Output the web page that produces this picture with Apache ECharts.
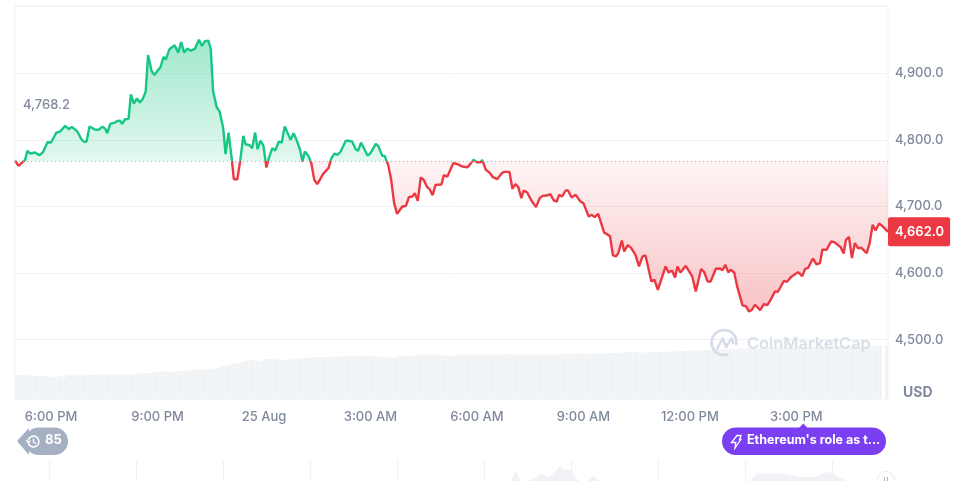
<!DOCTYPE html>
<html>
<head>
<meta charset="utf-8">
<title>ETH price chart</title>
<script src="https://cdn.jsdelivr.net/npm/echarts@6/dist/echarts.min.js"></script>
<style>
html,body{margin:0;padding:0;background:#fff;}
#chart{width:974px;height:481px;}
</style>
</head>
<body>
<div id="chart"></div>
<script>

/* minutes counted from midnight 24 Aug */
const minutes=[
1019,1025,1030,1036,1040,1045,1053,1060,1066,1074,1080,1089,1095,1104,1110,1115,1124,1132,1136,1140,
1145,1154,1160,1167,1172,1175,1180,1188,1192,1196,1200,1205,1211,1215,1220,1225,1230,1235,1240,1244,
1250,1255,1260,1265,1270,1274,1280,1289,1295,1300,1305,1310,1316,1323,1330,1335,1340,1346,1350,1354,
1360,1365,1371,1375,1380,1385,1389,1395,1400,1405,1409,1415,1420,1425,1429,1434,1439,1444,1449,1454,
1459,1465,1470,1475,1485,1490,1495,1501,1505,1509,1515,1520,1525,1530,1535,1540,1549,1554,1559,1564,
1569,1578,1582,1589,1595,1599,1604,1615,1620,1629,1633,1640,1644,1650,1655,1660,1665,1674,1680,1685,
1691,1695,1700,1705,1710,1716,1720,1725,1730,1740,1744,1750,1760,1766,1769,1775,1784,1789,1794,1800,
1806,1809,1815,1821,1827,1834,1842,1846,1855,1860,1865,1870,1875,1879,1885,1892,1900,1906,1911,1918,
1924,1930,1935,1939,1944,1950,1954,1960,1967,1975,1980,1989,1994,1999,2005,2015,2025,2030,2035,2039,
2045,2049,2055,2061,2068,2074,2080,2085,2095,2100,2106,2109,2119,2124,2130,2135,2139,2144,2153,2156,
2164,2170,2179,2184,2190,2195,2204,2211,2215,2220,2225,2229,2235,2240,2249,2255,2260,2265,2270,2279,
2285,2291,2296,2304,2309,2319,2324,2331,2343,2350,2355,2360,2368,2374,2380,2384,2391,2399,2405,2415,
2420,2424,2429,2434,2439,2444,2450,2459,2464,2469,2474,2480,2487,2495
];

const prices=[
4769,4761,4765,4770,4783.5,4779.5,4781,4777,4781,4796.5,4796,4811,4812.5,4821,4816,4819.5,4813,4800,4797,4797.5,
4820,4815.5,4815,4820,4816,4810,4824,4826,4828.5,4829,4824,4831,4831.5,4868.5,4854.5,4862,4856,4861.5,4872.5,4927.5,
4903.5,4897.5,4904,4909,4924.5,4921,4936,4942,4931,4947,4931,4937,4934,4936.5,4950.5,4941,4948,4949,4936,4872.5,
4849,4842.5,4817.5,4778.5,4811,4775,4741,4741,4770,4806,4793,4792.5,4787.5,4811,4786,4799,4791.5,4758.5,4775,4787.5,
4784,4797.5,4796,4820,4800,4810,4800,4785,4767.5,4782.5,4776,4765,4740,4733.5,4741,4749,4757.5,4772.5,4779.5,4777.5,
4781.5,4798.5,4799,4797.5,4786,4783.5,4796,4776.5,4780,4794,4791,4776,4776,4762.5,4740,4705,4689,4700,4701,4714,
4715,4720,4708.5,4743.5,4740,4729,4726,4717,4732.5,4733,4747,4745,4765,4764,4765,4760,4759,4764,4770,4766.5,
4766.5,4770,4755,4751,4744,4741,4750,4752,4752,4726.5,4733.5,4729,4712.5,4724,4721,4709,4699,4712.5,4716,4716.5,
4718.5,4709,4707.5,4717.5,4715,4724,4724,4713.5,4717.5,4707.5,4705,4685,4687.5,4684,4689,4661,4655.5,4626.5,4625,4630,
4649,4632.5,4642,4637.5,4627.5,4610,4625,4626.5,4587.5,4590,4575,4572.5,4610,4601,4604,4593.5,4610,4601,4611,4610,
4595,4572.5,4606,4602,4587.5,4587.5,4606.5,4607,4604,4612.5,4601,4605,4601,4580,4551.5,4550,4542.5,4545,4552.5,4544.5,
4553.5,4552,4559,4572.5,4572,4588.5,4587,4594,4601.5,4595.5,4606.5,4608,4622,4613,4615,4635,4635,4647.5,4646,4639,
4629.5,4650,4654.5,4622.5,4645,4637.5,4638,4630,4645,4672.5,4664,4674.5,4669.5,4662
];

const basePrice=4768.2;

/* volume strip, one bar every 5 minutes */
const volumes=[
24,24.2,24,24.3,24,23.6,23.4,23,23.2,22.8,
22.6,22.4,22.6,22,23,22.4,21.8,23.6,24,23.6,
24.2,24,24.3,24.1,24.2,24.3,24,24.4,24.6,24.2,
24.4,24.3,24.5,24.4,24.6,24.4,24.5,24.7,24.6,25,
25.2,25.6,25.8,26,26.2,26.4,26.2,26.8,27.4,28,
27.6,26.8,27.2,27.6,27.8,28,28.2,28.4,28.8,29,
29.2,29.4,29.6,29.8,30,30.2,30.4,30.8,31.6,33,
33.6,34.2,35,35.6,35.8,36.4,37.4,38.2,38.6,39.4,
38.6,38,38.8,39.6,40,40.2,40,39.8,39.4,39,
39.4,39.8,40.2,40.4,40.6,40.8,41,40.8,41.4,41.8,
42,42.2,42,41.8,42,42.2,42.4,42.6,42.4,42.6,
42.8,43,42.6,42.4,42.8,43,42.8,42.6,42.8,42.4,
42.6,42.2,42,41.6,41.2,41,41.6,43,43.4,43.2,
43,43.2,43.6,43.4,43.8,44.2,44.4,44.6,44.8,44.4,
44.6,44.2,43.8,43.4,43,43.2,43.6,43.8,44.2,44.6,
44.8,44.6,44.8,44.6,44.8,44.4,44.6,44.8,44.6,44.4,
44.2,44.6,44.8,45,44.8,44.6,44.8,44.6,44.4,44.6,
44.8,45,44.6,44.4,44.6,44.8,44.6,44.4,44.6,44.8,
44.6,44.8,45,45.2,45,44.8,45.4,45.2,45,45.2,
45.4,45.2,45,45.4,45.6,45.4,45.2,45.6,45.8,46,
46.2,46.4,46.6,46.8,46.6,46.8,47,46.8,46.6,46.4,
46.6,46.4,46.8,47,47.2,47,47.4,47.2,47.6,47.4,
47.6,47.8,48,48.2,48,48.4,48.2,48.6,48.8,49,
49.2,49,49.4,49.2,49.6,49.4,49.8,49.6,50,49.8,
50,50.2,50.4,50.2,50.6,50.4,50.8,50.6,51,50.8,
51,51.2,51,51.4,51.2,51.6,51.4,51.8,51.6,52,
51.8,52,52.2,52,52.4,52.2,52.6,52.4,52.8,52.6,
52.8,53,52.8,53.2,53,53.4,53.2,53.6,53.4,53.2,
53.4,53.2,53.6,53.4,53.2,53.4,53,53.2,53.2,null,54
];

const timeTicks=[1080,1260,1440,1620,1800,1980,2160,2340];
const timeLabels=["6:00 PM","9:00 PM","25 Aug","3:00 AM","6:00 AM","9:00 AM","12:00 PM","3:00 PM"];
const priceLabels=[4500,4600,4700,4800,4900];
const priceLines=[4500,4600,4700,4800,4900,5000];

/* navigator strip under the chart, position in tick units */
const navTicks=[0,1,2,3,4,5,6,7,8,9];
const navPos=[5.30,5.36,5.42,5.5,5.59,5.66,5.71,5.75,5.82,5.87,5.92,5.96,6.01,6.05,6.10,6.19,6.25,6.32,8.05,8.14,8.24,8.34,8.46,8.63,8.80,8.93,9.00,9.09,9.16];
const navHeights=[0,10,0,0,3,8,4,4,10,15,11,12,9,3,0,0,5,0,0,8,7,8,7,4,4,9,8,3,0];


const FONT="Inter";
const GREEN="#16c784";
const RED="#ea3943";
const LABEL="#808a9d";
const LINE="#eff2f5";


function money(v){
return v.toLocaleString("en-US",{minimumFractionDigits:1,maximumFractionDigits:1});
}

let hi=Math.max(...prices);
let lo=Math.min(...prices);
let split=(hi-basePrice)/(hi-lo);

const priceData=minutes.map((m,i)=>[m,prices[i]]);
const navData=navPos.map((p,i)=>[p,navHeights[i]]);


let chart=echarts.init(document.getElementById("chart"),null,{renderer:"canvas"});

chart.setOption({

animation:false,
backgroundColor:"#fff",
textStyle:{fontFamily:FONT},

grid:[
{left:15,right:86,top:6,bottom:82,show:true,borderColor:LINE,borderWidth:1,backgroundColor:"transparent"},
{left:15,right:86,top:460,bottom:-2,show:false}
],

xAxis:[
{
type:"value",gridIndex:0,min:1019,max:2495,
axisLine:{show:false},
splitLine:{show:false},
axisTick:{show:false},
axisLabel:{
customValues:timeTicks,
color:LABEL,fontSize:13,fontWeight:500,fontFamily:FONT,margin:12,
formatter:v=>timeLabels[timeTicks.indexOf(v)]
}
},
{
type:"category",gridIndex:0,show:false,
data:volumes.map((v,i)=>i)
},
{
type:"value",gridIndex:1,min:-0.394,max:9.64,
axisLine:{show:true,lineStyle:{color:LINE}},
axisLabel:{show:false},
axisTick:{show:false,customValues:navTicks},
splitLine:{show:true,lineStyle:{color:LINE}}
}
],

yAxis:[
{
type:"value",gridIndex:0,position:"right",min:4411,max:5001,
axisLine:{show:false},
axisTick:{show:false,customValues:priceLines},
splitLine:{show:true,lineStyle:{color:LINE}},
axisLabel:{
customValues:priceLabels,
color:LABEL,fontSize:13,fontWeight:500,fontFamily:FONT,margin:7,
padding:[4,0,0,0],
formatter:v=>money(v)
}
},
{type:"value",gridIndex:0,min:0,max:393,show:false},
{type:"value",gridIndex:1,min:0,max:21,show:false}
],

series:[

{
name:"Volume",type:"bar",
xAxisIndex:1,yAxisIndex:1,
data:volumes,
barWidth:"80%",
itemStyle:{color:"#eef1f4"},
silent:true,z:1
},

{
name:"Price",type:"line",
xAxisIndex:0,yAxisIndex:0,
data:priceData,
showSymbol:false,
smooth:false,
clip:false,
z:3,
/* one stroke, green above the opening price and red below it */
lineStyle:{
width:2.4,
color:{
type:"linear",x:0,y:0,x2:0,y2:1,
colorStops:[
{offset:0,color:GREEN},
{offset:split,color:GREEN},
{offset:split,color:RED},
{offset:1,color:RED}
]
}
},
itemStyle:{color:RED},
areaStyle:{
origin:basePrice,
opacity:1,
color:{
type:"linear",x:0,y:0,x2:0,y2:1,
colorStops:[
{offset:0,color:"rgba(22,199,132,0.40)"},
{offset:split,color:"rgba(22,199,132,0.12)"},
{offset:split,color:"rgba(234,57,67,0.05)"},
{offset:1,color:"rgba(234,57,67,0.30)"}
]
}
},
markLine:{
silent:true,symbol:"none",
label:{show:false},
lineStyle:{color:"#a7adb9",type:[1,3],width:1},
data:[{yAxis:basePrice}]
},
endLabel:{
show:true,
distance:0,
formatter:p=>money(p.value[1]),
color:"#fff",
fontFamily:FONT,fontSize:13,fontWeight:600,
backgroundColor:RED,
borderRadius:2,
padding:[8,6,8,7]
}
},

{
name:"Navigator",type:"line",
xAxisIndex:2,yAxisIndex:2,
data:navData,
showSymbol:false,
lineStyle:{width:0},
areaStyle:{color:"#f0f2f5",opacity:1},
silent:true
}

],

graphic:[

/* base price caption */
{type:"text",z:5,left:23,top:99,style:{text:"4,768.2",fill:LABEL,font:"500 13px Inter"}},

/* currency */
{type:"text",z:5,left:903,top:386,style:{text:"USD",fill:LABEL,font:"bold 14px Inter"}},

/* watermark */
{type:"arc",z:5,shape:{cx:724,cy:342.5,r:12.5,startAngle:1.2,endAngle:6.5,clockwise:true},
style:{stroke:"#d5dce8",lineWidth:2.6,fill:null}},
{type:"polyline",z:5,shape:{points:[[716.7,349.5],[722.7,338.5],[726.2,346.7],[731.7,338.5],[733.6,344]]},
style:{stroke:"#d5dce8",lineWidth:2.6,fill:null,lineJoin:"round"}},
{type:"text",z:5,left:747,top:336,style:{text:"CoinMarketCap",fill:"#d8dfe9",font:"600 16.4px Inter"}},

/* history chip */
{type:"polygon",z:5,shape:{points:[[17,441],[29,428],[29,455]]},style:{fill:"#a6b0c3"}},
{type:"rect",z:5,shape:{x:25,y:427.5,width:43,height:27.5,r:13.7},style:{fill:"#a6b0c3"}},
{type:"arc",z:6,shape:{cx:33.5,cy:441.5,r:5.4,startAngle:3.4,endAngle:9.2,clockwise:true},
style:{stroke:"#fff",lineWidth:1.5,fill:null}},
{type:"polyline",z:6,shape:{points:[[26.5,440],[28.3,442.5],[30.3,440.5]]},style:{stroke:"#fff",lineWidth:1.3,fill:null}},
{type:"polyline",z:6,shape:{points:[[33.5,438.5],[33.5,442],[36,443.5]]},style:{stroke:"#fff",lineWidth:1.3,fill:null}},
{type:"text",z:6,left:45,top:434,style:{text:"85",fill:"#fff",font:"bold 13px Inter"}},

/* news chip */
{type:"polygon",z:5,shape:{points:[[799,428],[803.3,423.5],[807.6,428]]},style:{fill:"#7b3ff2"}},
{type:"rect",z:5,shape:{x:722,y:427.5,width:164,height:27.5,r:13.7},style:{fill:"#7b3ff2"}},
{type:"polygon",z:6,shape:{points:[[737,435.5],[741,435.5],[739.5,439.5],[740.8,439.5],[735,448],[735.8,442.5],[731.5,442.5]]},
style:{stroke:"#fff",lineWidth:1.3,fill:null}},
{type:"text",z:6,left:747,top:434,style:{text:"Ethereum's role as t...",fill:"#fff",font:"bold 12.5px Inter"}},

/* navigator handle */
{type:"circle",z:5,shape:{cx:886,cy:480,r:8.5},style:{fill:"#fff",stroke:"#e6e9ee",lineWidth:1}},
{type:"line",z:6,shape:{x1:884.5,y1:477,x2:884.5,y2:481},style:{stroke:"#a6b0c3",lineWidth:1}},
{type:"line",z:6,shape:{x1:887.5,y1:477,x2:887.5,y2:481},style:{stroke:"#a6b0c3",lineWidth:1}}

]

});

</script>
</body>
</html>
